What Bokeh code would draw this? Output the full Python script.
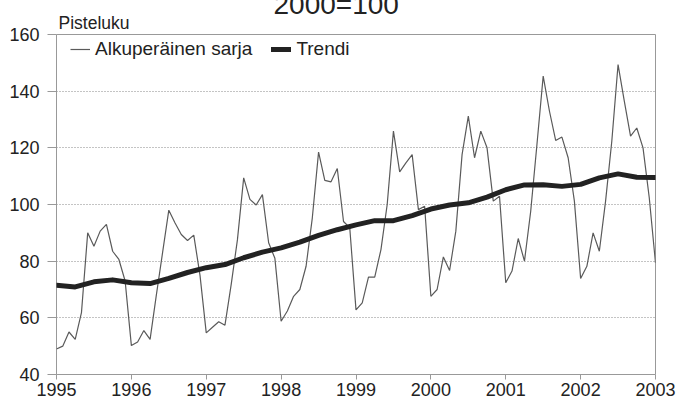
from bokeh.plotting import figure
from bokeh.models import FixedTicker, Legend, LegendItem, Title
from bokeh.embed import file_html
from bokeh.resources import INLINE

years = [1995, 1996, 1997, 1998, 1999, 2000, 2001, 2002, 2003]
year_labels = ["1995", "1996", "1997", "1998", "1999", "2000", "2001", "2002", "2003"]
y_ticks = [40, 60, 80, 100, 120, 140, 160]

# Monthly original series, Jan 1995 .. Jan 2003
original = [
    49.0, 50.0, 55.0, 52.4, 61.8, 90.0, 85.3, 90.6, 93.0, 83.5, 80.6, 73.0,
    50.2, 51.5, 55.5, 52.4, 68.0, 83.0, 98.0, 93.5, 89.4, 87.3, 89.2, 75.0,
    54.7, 56.7, 58.6, 57.4, 71.8, 87.6, 109.4, 101.8, 99.8, 103.5, 86.5, 81.0,
    58.8, 62.4, 67.6, 70.0, 78.2, 95.3, 118.5, 108.5, 108.0, 112.7, 94.0, 91.8,
    62.8, 65.3, 74.4, 74.4, 84.1, 100.0, 125.9, 111.5, 114.7, 117.6, 98.2, 99.4,
    67.6, 70.0, 81.5, 76.7, 90.6, 117.6, 131.2, 116.5, 125.9, 120.0, 101.2, 102.9,
    72.4, 76.5, 88.0, 80.0, 97.6, 121.2, 145.3, 133.0, 122.6, 123.8, 116.5, 101.2,
    73.9, 78.2, 90.0, 83.5, 101.2, 122.4, 149.4, 136.5, 124.1, 127.0, 120.0, 102.4,
    79.4,
]
# Trend, read every third month (Jan, Apr, Jul, Oct), Jan 1995 .. Jan 2003
trend = [
    71.5, 70.9, 72.7, 73.4,
    72.4, 72.1, 73.9, 76.0,
    77.7, 78.8, 81.2, 83.2,
    84.7, 86.7, 89.1, 91.1,
    92.8, 94.3, 94.3, 96.1,
    98.4, 99.8, 100.6, 102.6,
    105.2, 106.9, 107.0, 106.4,
    107.1, 109.4, 110.8, 109.6,
    109.5,
]

x_orig = [1995 + i / 12 for i in range(len(original))]
x_trend = [1995 + 3 * i / 12 for i in range(len(trend))]

FONT = "Liberation Sans"
EXTRA = 30  # canvas extends above the page top so the title is cut like the reference

p = figure(width=677, height=414 + EXTRA, output_backend="svg", toolbar_location=None,
           x_range=(1995, 2003), y_range=(40, 160),
           min_border_left=56, min_border_right=22, min_border_top=34 + EXTRA,
           min_border_bottom=40, margin=(-EXTRA, 0, 0, 0), title=None)
p.background_fill_color = "white"
p.border_fill_color = "white"
p.outline_line_color = "#999999"
p.outline_line_width = 1

r1 = p.line(x_orig, original, line_color="#5a5a5a", line_width=1.2)
r2 = p.line(x_trend, trend, line_color="#222222", line_width=5, line_join="round", line_cap="round")

p.xgrid.grid_line_color = None
p.ygrid.grid_line_color = "#888888"
p.ygrid.grid_line_dash = "1 2"
p.ygrid.grid_line_width = 1

p.xaxis.ticker = FixedTicker(ticks=years)
p.xaxis.major_label_overrides = {y: l for y, l in zip(years, year_labels)}
p.yaxis.ticker = FixedTicker(ticks=y_ticks)
for ax in (p.xaxis[0], p.yaxis[0]):
    ax.axis_line_color = None
    ax.minor_tick_line_color = None
    ax.major_tick_line_color = "#999999"
    ax.major_tick_in = 0
    ax.major_label_text_font = FONT
    ax.major_label_text_font_size = "18px"
    ax.major_label_text_color = "#222222"
p.xaxis.major_tick_out = 5
p.xaxis.major_label_standoff = 3
p.yaxis.major_tick_out = 9
p.yaxis.major_label_standoff = 8

legend = Legend(items=[LegendItem(label="Alkuperäinen sarja", renderers=[r1]),
                       LegendItem(label="Trendi", renderers=[r2])],
                orientation="horizontal", location=(14, 314),
                border_line_color=None, background_fill_alpha=0,
                label_text_font=FONT, label_text_font_size="19px", label_text_color="#222222",
                glyph_width=20, label_standoff=5, spacing=19, padding=0, margin=0)
p.add_layout(legend)

t1 = Title(text="Pisteluku", align="left", offset=2, standoff=3,
           text_font=FONT, text_font_size="17.5px", text_font_style="normal", text_color="#222222")
t2 = Title(text="2000=100", align="left", offset=217, standoff=-20,
           text_font=FONT, text_font_size="28px", text_font_style="normal", text_color="#222222")
p.add_layout(t1, "above")
p.add_layout(t2, "above")

open("out.html", "w").write(file_html(p, INLINE))
